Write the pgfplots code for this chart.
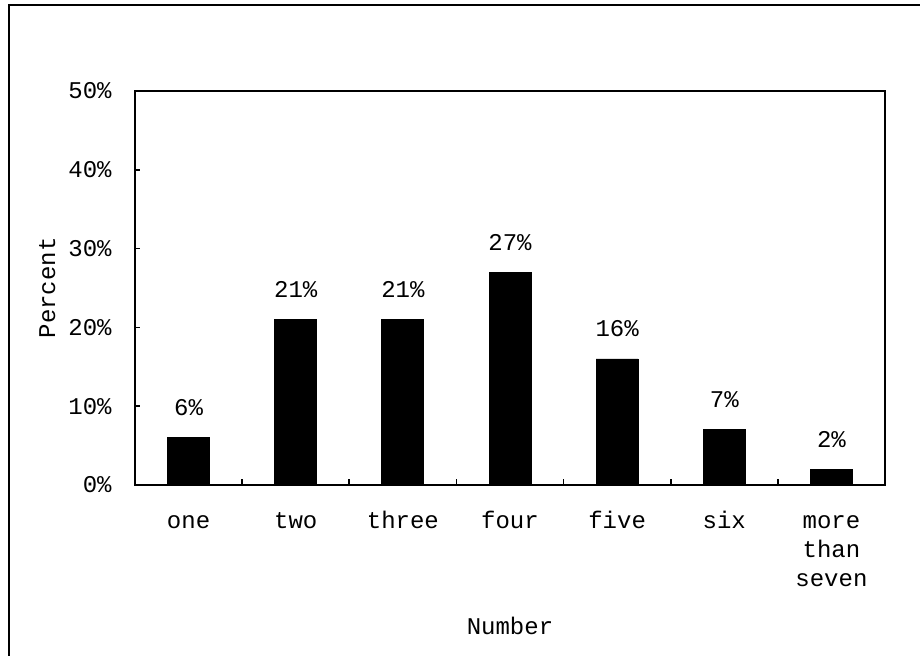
\documentclass[border=0pt]{standalone}
\usepackage{pgfplots}
\pgfplotsset{compat=1.18}
\usepackage{fontspec}
\setmainfont{Liberation Mono}
\begin{document}
\fontsize{12}{14.5}\selectfont
\begin{tikzpicture}[font=\fontsize{12}{14.5}\selectfont]
\useasboundingbox (0,0) rectangle (460pt,328pt);
\draw[line width=1pt] (4.5pt,0) -- (4.5pt,325.5pt) -- (460pt,325.5pt);
\begin{axis}[
  at={(67.5pt,85.5pt)}, anchor=south west,
  scale only axis, width=375pt, height=197pt,
  /pgf/number format/assume math mode=true,
  ybar, bar width=21pt,
  xmin=-0.5, xmax=6.5, ymin=0, ymax=50,
  axis line style={line width=1pt},
  tick align=inside, tick pos=left,
  xtick={0,1,2,3,4,5,6},
  xticklabels={\strut one,\strut two,\strut three,\strut four,\strut five,\strut six,{\strut more\\than\\seven}},
  xticklabel style={align=center, yshift=-7.5pt},
  major x tick style={draw=none},
  minor xtick={0.5,1.5,2.5,3.5,4.5,5.5},
  minor tick length=3pt,
  major tick length=2.5pt,
  every tick/.style={black, line width=0.8pt},
  ytick={0,10,20,30,40,50},
  yticklabel={\pgfmathprintnumber{\tick}\%},
  yticklabel style={xshift=-7.5pt},
  xlabel={Number},
  xlabel style={at={(axis description cs:0.5,-0.358)}, anchor=center},
  ylabel={Percent},
  ylabel style={at={(axis description cs:-0.117,0.5)}, anchor=center},
  nodes near coords={\pgfmathprintnumber{\pgfplotspointmeta}\%},
  nodes near coords style={anchor=center, yshift=15pt, black},
]
\addplot[fill=black, draw=black] coordinates {(0,6) (1,21) (2,21) (3,27) (4,16) (5,7) (6,2)};
\end{axis}
\end{tikzpicture}
\end{document}
